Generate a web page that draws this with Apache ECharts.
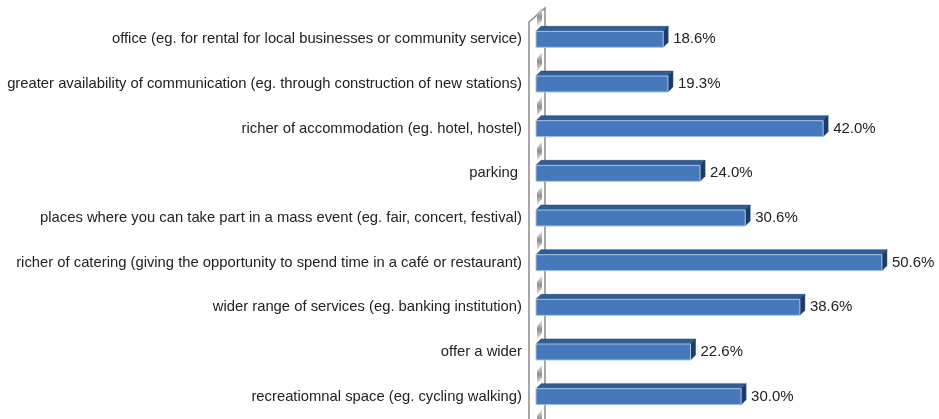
<!DOCTYPE html>
<html>
<head>
<meta charset="utf-8">
<script src="https://cdn.jsdelivr.net/npm/echarts@6/dist/echarts.min.js"></script>
<style>
  html, body { margin: 0; padding: 0; background: #fff; }
  #chart { width: 939px; height: 419px; }
</style>
</head>
<body>
<div id="chart"></div>
<script>
const categories = [
  'office (eg. for rental for local businesses or community service)',
  'greater availability of communication (eg. through construction of new stations)',
  'richer of accommodation (eg. hotel, hostel)',
  'parking ',
  'places where you can take part in a mass event (eg. fair, concert, festival)',
  'richer of catering (giving the opportunity to spend time in a café or restaurant)',
  'wider range of services (eg. banking institution)',
  'offer a wider',
  'recreatiomnal space (eg. cycling walking)'
];
const values = [18.6, 19.3, 42.0, 24.0, 30.6, 50.6, 38.6, 22.6, 30.0];

const FONT = 'Liberation Sans, Arial, sans-serif';
const chart = echarts.init(document.getElementById('chart'));

// 3D bar: front face, top face, right side face
function renderBar(params, api) {
  const idx = api.value(1);
  const start = api.coord([0, idx]);
  const end = api.coord([api.value(0), idx]);
  const band = api.size([0, 1])[1];
  const h = 16, d = 5;
  const y0 = start[1] - h / 2;
  const x0 = start[0], x1 = end[0];
  const children = [];

  // axis wall, drawn once
  if (params.dataIndex === 0) {
    const cs = params.coordSys;
    const bottom = cs.y + cs.height + 5;
    children.push({
      type: 'polyline', silent: true,
      shape: { points: [[x0 - 7, bottom], [x0 - 7, cs.y + 5], [x0 + 9, cs.y - 9], [x0 + 9, bottom]] },
      style: { stroke: '#8a8a8a', lineWidth: 1.5, fill: null }
    });
    for (let i = 0; i <= categories.length; i++) {
      const yb = cs.y + i * band;
      children.push({
        type: 'polygon', silent: true,
        shape: { points: [[x0 + 1, yb + 10], [x0 + 6, yb + 3], [x0 + 6, yb - 10], [x0 + 1, yb - 3]] },
        style: {
          fill: new echarts.graphic.LinearGradient(0, 0, 0, 1, [
            { offset: 0, color: '#eeeeee' },
            { offset: 0.5, color: '#8f8f8f' },
            { offset: 1, color: '#eeeeee' }
          ])
        }
      });
    }
  }

  children.push({
    type: 'polygon',
    shape: { points: [[x0, y0], [x0 + d, y0 - d], [x1 + d, y0 - d], [x1, y0]] },
    style: { fill: '#2f5d94', stroke: '#1f3f6a', lineWidth: 0.5 }
  });
  children.push({
    type: 'polygon',
    shape: { points: [[x1, y0], [x1 + d, y0 - d], [x1 + d, y0 + h - d], [x1, y0 + h]] },
    style: { fill: '#1c3b66', stroke: '#1c3b66', lineWidth: 0.5 }
  });
  children.push({
    type: 'rect',
    shape: { x: x0, y: y0, width: x1 - x0, height: h },
    style: { fill: '#4679bc', stroke: '#a9c4e6', lineWidth: 1 }
  });
  children.push({
    type: 'text',
    style: {
      text: api.value(0).toFixed(1) + '%',
      x: x1 + d + 5, y: start[1],
      verticalAlign: 'middle',
      fill: '#222', font: '15px ' + FONT
    }
  });
  return { type: 'group', children: children };
}

chart.setOption({
  animation: false,
  grid: { left: 536, right: 27, top: 17, bottom: 0, containLabel: false },
  xAxis: {
    type: 'value', min: 0, max: 55,
    show: false
  },
  yAxis: {
    type: 'category',
    data: categories,
    inverse: true,
    axisLine: { show: false },
    axisTick: { show: false },
    axisLabel: { margin: 14, color: '#222', fontSize: 14.8, fontFamily: FONT }
  },
  series: [{
    type: 'custom',
    renderItem: renderBar,
    encode: { x: 0, y: 1 },
    data: values.map((v, i) => [v, i])
  }]
});
</script>
</body>
</html>
